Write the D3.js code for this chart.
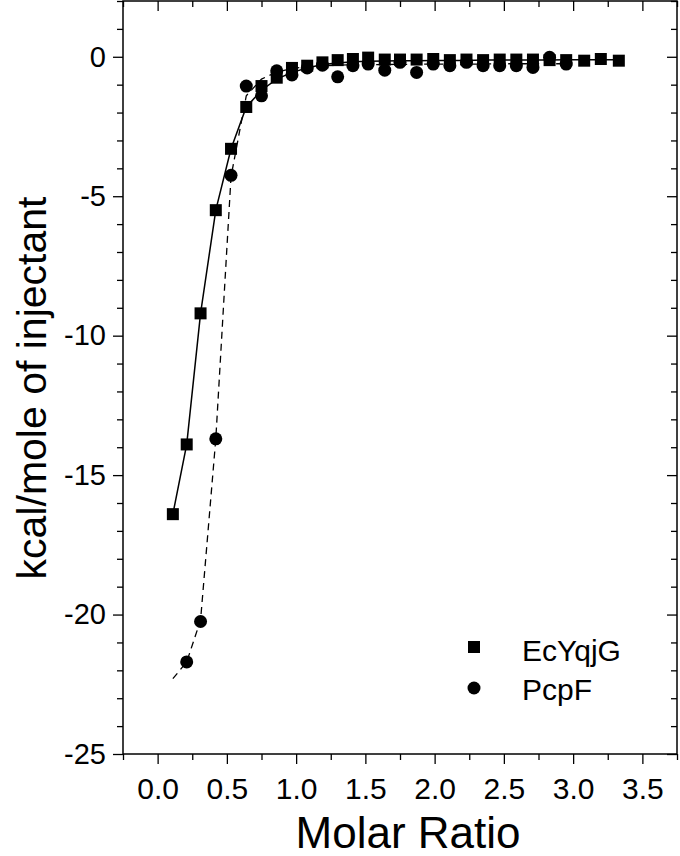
<!DOCTYPE html>
<html>
<head>
<meta charset="utf-8">
<script src="https://cdn.jsdelivr.net/npm/d3@7"></script>
<style>
  html, body { margin: 0; padding: 0; background: #fff; }
  svg { display: block; font-family: "Liberation Sans", Arial, sans-serif; }
</style>
</head>
<body>
<div id="chart"></div>
<script>
// injection points (molar ratio)
const ratio = [0.11, 0.21, 0.31, 0.42, 0.53, 0.64, 0.75, 0.86, 0.97, 1.08, 1.19, 1.30, 1.41, 1.52, 1.64,
               1.75, 1.87, 1.99, 2.11, 2.23, 2.35, 2.47, 2.59, 2.71, 2.83, 2.95, 3.08, 3.20, 3.33];

// EcYqjG heats (squares) and fit (solid)
const ecyqjg = [-16.4, -13.9, -9.2, -5.5, -3.3, -1.8, -1.05, -0.75, -0.4, -0.32, -0.2, -0.12, -0.08, -0.03, -0.1,
                -0.1, -0.1, -0.08, -0.12, -0.1, -0.12, -0.1, -0.1, -0.1, -0.12, -0.12, -0.14, -0.08, -0.14];
const ecyqjgFit = [-16.4, -13.9, -9.2, -5.5, -3.3, -1.8, -1.2, -0.8, -0.56, -0.4, -0.28, -0.22, -0.18, -0.16, -0.15,
                   -0.14, -0.14, -0.13, -0.13, -0.13, -0.12, -0.12, -0.12, -0.12, -0.12, -0.11, -0.11, -0.11, -0.11];

// PcpF heats (circles, first injection dropped) and fit (dashed)
const pcpfRatio = ratio.slice(1, 26);
const pcpf = [-21.7, -20.25, -13.7, -4.25, -1.05, -1.4, -0.5, -0.65, -0.4, -0.3, -0.72, -0.32, -0.26, -0.48,
              -0.2, -0.56, -0.26, -0.32, -0.2, -0.32, -0.32, -0.32, -0.38, -0.02, -0.26];
const pcpfFitRatio = ratio.slice(0, 26);
const pcpfFit = [-22.3, -21.7, -20.2, -13.7, -4.3, -1.4, -0.8, -0.55, -0.42, -0.36, -0.32, -0.3, -0.29, -0.28,
                 -0.28, -0.27, -0.27, -0.26, -0.26, -0.26, -0.26, -0.25, -0.25, -0.25, -0.25, -0.25];

const xTicks = [0, 0.5, 1, 1.5, 2, 2.5, 3, 3.5];
const yTicks = [0, -5, -10, -15, -20, -25];

const W = 680, H = 856;
const margin = {top: 1, right: 3, bottom: 102, left: 123};
const width = W - margin.left - margin.right;
const height = H - margin.top - margin.bottom;

const svg = d3.select('#chart').append('svg').attr('width', W).attr('height', H);
const g = svg.append('g').attr('transform', `translate(${margin.left},${margin.top})`);

const x = d3.scaleLinear().domain([-0.25, 3.75]).range([0, width]);
const y = d3.scaleLinear().domain([-25, 2]).range([height, 0]);

const minorX = d3.range(-0.25, 3.751, 0.25).filter(v => Math.abs(v * 2 - Math.round(v * 2)) > 1e-6);
const minorY = d3.range(-25, 2.01, 1).filter(v => v % 5 !== 0);

function styleAxis(sel, size) {
  sel.select('.domain').remove();
  sel.selectAll('line').attr('stroke', '#000').attr('stroke-width', 1.3);
  sel.selectAll('text').attr('fill', '#000').attr('font-size', size || 29)
     .attr('font-family', '"Liberation Sans", Arial, sans-serif');
}

// bottom axis (ticks out)
g.append('g').attr('transform', `translate(0,${height})`)
  .call(d3.axisBottom(x).tickValues(xTicks).tickFormat(d3.format('.1f')).tickSize(10).tickPadding(14))
  .call(styleAxis, 30);
g.append('g').attr('transform', `translate(0,${height})`)
  .call(d3.axisBottom(x).tickValues(minorX).tickFormat('').tickSize(6)).call(styleAxis);
// top axis (ticks in)
g.append('g').call(d3.axisBottom(x).tickValues(xTicks).tickFormat('').tickSize(10)).call(styleAxis);
g.append('g').call(d3.axisBottom(x).tickValues(minorX).tickFormat('').tickSize(6)).call(styleAxis);
// left axis (ticks out)
g.append('g')
  .call(d3.axisLeft(y).tickValues(yTicks).tickFormat(d3.format('d')).tickSize(10).tickPadding(7))
  .call(styleAxis, 29);
g.append('g').call(d3.axisLeft(y).tickValues(minorY).tickFormat('').tickSize(6)).call(styleAxis);
// right axis (ticks in)
g.append('g').attr('transform', `translate(${width},0)`)
  .call(d3.axisLeft(y).tickValues(yTicks).tickFormat('').tickSize(10)).call(styleAxis);
g.append('g').attr('transform', `translate(${width},0)`)
  .call(d3.axisLeft(y).tickValues(minorY).tickFormat('').tickSize(6)).call(styleAxis);

g.selectAll('.tick text').text(function() { return this.textContent.replace('\u2212', '-'); });

// frame
g.append('rect').attr('width', width).attr('height', height)
  .attr('fill', 'none').attr('stroke', '#000').attr('stroke-width', 1.5);

// fit lines
const line = d3.line().x(d => x(d[0])).y(d => y(d[1]));
g.append('path').datum(d3.zip(pcpfFitRatio, pcpfFit))
  .attr('fill', 'none').attr('stroke', '#000').attr('stroke-width', 1.3)
  .attr('stroke-dasharray', '7,5').attr('d', line);
g.append('path').datum(d3.zip(ratio, ecyqjgFit))
  .attr('fill', 'none').attr('stroke', '#000').attr('stroke-width', 1.5).attr('d', line);

// markers
const sq = 12, r = 6.5;
g.selectAll('circle.pcpf').data(d3.zip(pcpfRatio, pcpf)).enter().append('circle')
  .attr('class', 'pcpf').attr('cx', d => x(d[0])).attr('cy', d => y(d[1])).attr('r', r).attr('fill', '#000');
g.selectAll('rect.ec').data(d3.zip(ratio, ecyqjg)).enter().append('rect')
  .attr('class', 'ec').attr('x', d => x(d[0]) - sq / 2).attr('y', d => y(d[1]) - sq / 2)
  .attr('width', sq).attr('height', sq).attr('fill', '#000');

// legend
const leg = svg.append('g');
leg.append('rect').attr('x', 468).attr('y', 641).attr('width', 12).attr('height', 12).attr('fill', '#000');
leg.append('text').attr('x', 522).attr('y', 661).attr('font-size', 30).text('EcYqjG');
leg.append('circle').attr('cx', 474).attr('cy', 688).attr('r', 6.5).attr('fill', '#000');
leg.append('text').attr('x', 522).attr('y', 700).attr('font-size', 30).text('PcpF');

// axis titles
svg.append('text').attr('x', 408).attr('y', 848)
  .attr('text-anchor', 'middle').attr('font-size', 44).text('Molar Ratio');
svg.append('text').attr('transform', 'translate(46,388) rotate(-90)')
  .attr('text-anchor', 'middle').attr('font-size', 41).text('kcal/mole of injectant');
</script>
</body>
</html>
